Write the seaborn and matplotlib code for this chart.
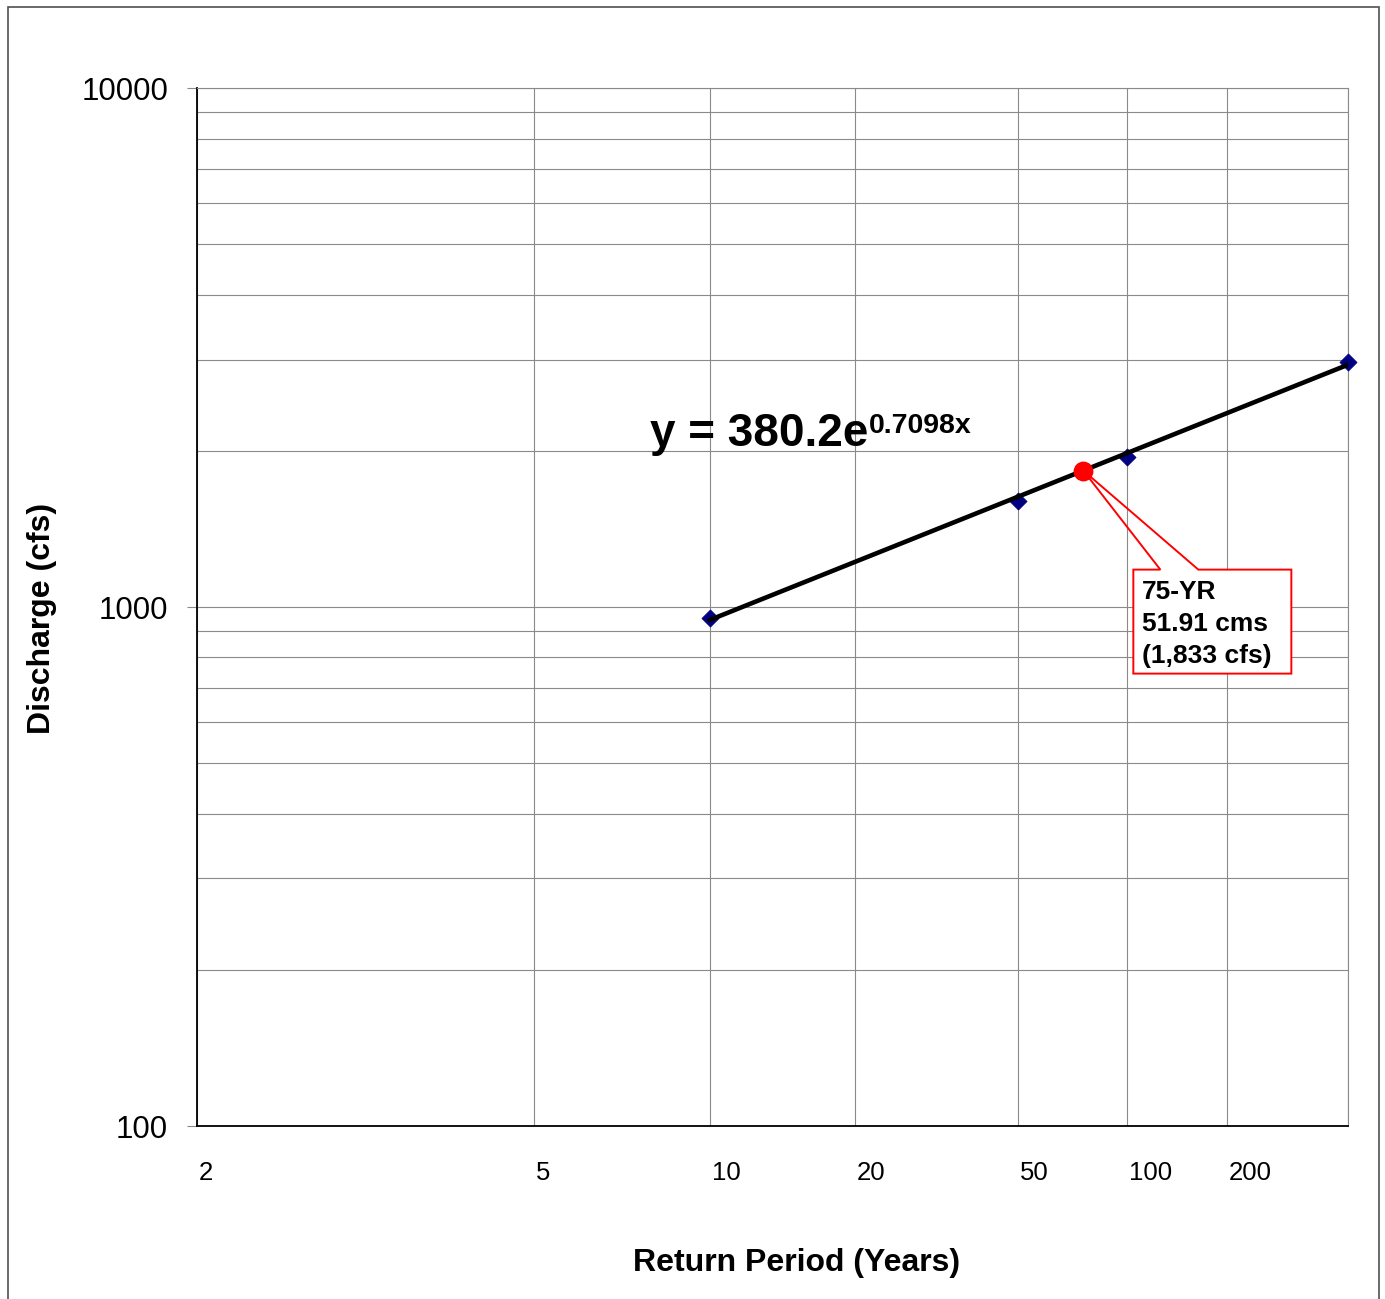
import numpy as np
import pandas as pd
import matplotlib
matplotlib.use("Agg")
import matplotlib.pyplot as plt
import matplotlib.transforms as mtransforms
from matplotlib.patches import Rectangle, Polygon
from matplotlib.ticker import NullFormatter, NullLocator
import seaborn as sns
from statistics import NormalDist

# Peak discharge estimates (cfs) at selected return periods (years)
return_period = [10, 50, 100, 500]
discharge_cfs = [953, 1600, 1950, 2965]

# Fitted trend: Q = A * exp(B * z), z = standard normal variate of (1 - 1/T)
trend_coef_a = 380.2
trend_coef_b = 0.7098
trend_period = [10, 500]

# Design event
design_period = [75]
design_cfs = [1833]
design_cms = 51.91

x_ticks = [2, 5, 10, 20, 50, 100, 200, 500]
x_tick_labels = ["2", "5", "10", "20", "50", "100", "200", ""]
y_major = [100, 1000, 10000]
y_major_labels = ["100", "1000", "10000"]
y_minor = [200, 300, 400, 500, 600, 700, 800, 900,
           2000, 3000, 4000, 5000, 6000, 7000, 8000, 9000]

# ---- normal-probability scale for return period ----
_nd = NormalDist()
_inv_cdf = np.vectorize(_nd.inv_cdf, otypes=[float])
_cdf = np.vectorize(_nd.cdf, otypes=[float])


def period_to_z(T):
    T = np.clip(np.asarray(T, dtype=float), 1.0001, 1e9)
    return _inv_cdf(1.0 - 1.0 / T)


def z_to_period(z):
    z = np.asarray(z, dtype=float)
    return 1.0 / np.clip(1.0 - _cdf(z), 1e-12, None)


obs = pd.DataFrame({"T": return_period, "Q": discharge_cfs})
trend = pd.DataFrame({"T": trend_period})
trend["Q"] = trend_coef_a * np.exp(trend_coef_b * period_to_z(trend["T"]))
design = pd.DataFrame({"T": design_period, "Q": design_cfs})

sns.set_theme(style="white")
plt.rcParams["font.family"] = ["Liberation Sans", "DejaVu Sans"]
plt.rcParams["text.color"] = "black"
plt.rcParams["axes.labelcolor"] = "black"
plt.rcParams["xtick.color"] = "black"
plt.rcParams["ytick.color"] = "black"

W, H = 1385, 1299
fig = plt.figure(figsize=(W / 100, H / 100), dpi=100)
ax = fig.add_axes([197 / W, 1 - 1126 / H, (1348 - 197) / W, (1126 - 88.3) / H])

sns.scatterplot(data=obs, x="T", y="Q", marker="D", s=75, color="#000080",
                edgecolor="#000080", linewidth=0.6, zorder=3, clip_on=False, ax=ax)
sns.lineplot(data=trend, x="T", y="Q", color="black", linewidth=3.3,
             zorder=4, ax=ax)
sns.scatterplot(data=design, x="T", y="Q", color="#ff0000", edgecolor="#ff0000",
                s=175, zorder=6, clip_on=False, ax=ax)

ax.set_xscale("function", functions=(period_to_z, z_to_period))
ax.set_yscale("log")
ax.set_xlim(2, 500)
ax.set_ylim(100, 10000)

grid_color = "#8a8a8a"
ax.set_xticks(x_ticks, labels=x_tick_labels)
ax.xaxis.set_minor_locator(NullLocator())
ax.set_yticks(y_major, labels=y_major_labels)
ax.set_yticks(y_minor, minor=True)
ax.yaxis.set_minor_formatter(NullFormatter())

ax.set_axisbelow(True)
ax.grid(True, which="major", axis="x", color=grid_color, linewidth=0.8)
ax.grid(True, which="both", axis="y", color=grid_color, linewidth=0.8)

ax.tick_params(axis="x", which="both", length=0, pad=25.5, labelsize=18.5,
               labelcolor="black")
ax.tick_params(axis="y", which="major", length=7.2, width=0.8, color=grid_color,
               pad=13.5, labelsize=22.5, labelcolor="black", left=True)
ax.tick_params(axis="y", which="minor", length=0)

offset = mtransforms.ScaledTranslation(2 / 100, 0, fig.dpi_scale_trans)
for lbl in ax.get_xticklabels():
    lbl.set_horizontalalignment("left")
    lbl.set_transform(lbl.get_transform() + offset)

for side in ("left", "bottom"):
    ax.spines[side].set_color("black")
    ax.spines[side].set_linewidth(1.3)
for side in ("top", "right"):
    ax.spines[side].set_color(grid_color)
    ax.spines[side].set_linewidth(0.8)

ax.set_xlabel("Return Period (Years)", fontsize=23, fontweight="bold")
ax.set_ylabel("Discharge (cfs)", fontsize=23, fontweight="bold")
ax.xaxis.set_label_coords((797 - 197) / (1348 - 197), (1126 - 1263) / (1126 - 88.3))
ax.xaxis.label.set_verticalalignment("center")
ax.yaxis.set_label_coords((42 - 197) / (1348 - 197), (1126 - 618) / (1126 - 88.3))
ax.yaxis.label.set_verticalalignment("center")

# Trend equation
fig.text(650 / W, 1 - 446 / H, "y = 380.2e", fontsize=33, fontweight="bold",
         va="baseline", ha="left")
fig.text(869 / W, 1 - 433 / H, f"{trend_coef_b}x", fontsize=20.5, fontweight="bold",
         va="baseline", ha="left")

# Callout for the design event
dot_x, dot_y = ax.transData.transform((design_period[0], design_cfs[0]))
box_l, box_r, box_t, box_b = 50, 208, 99, 203
wedge_a, wedge_b = 77, 115
ident = mtransforms.IdentityTransform()
ax.add_patch(Rectangle((dot_x + box_l, dot_y - box_b), box_r - box_l, box_b - box_t,
                       transform=ident, facecolor="white", edgecolor="none",
                       zorder=5, clip_on=False))
outline = [
    (dot_x, dot_y),
    (dot_x + wedge_b, dot_y - box_t),
    (dot_x + box_r, dot_y - box_t),
    (dot_x + box_r, dot_y - box_b),
    (dot_x + box_l, dot_y - box_b),
    (dot_x + box_l, dot_y - box_t),
    (dot_x + wedge_a, dot_y - box_t),
]
ax.add_patch(Polygon(outline, closed=True, fill=False, edgecolor="#ff0000",
                     linewidth=1.4, transform=ident, zorder=5.5, clip_on=False))
ax.annotate(f"{design_period[0]}-YR\n{design_cms:.2f} cms\n({design_cfs[0]:,} cfs)",
            xy=(design_period[0], design_cfs[0]), xytext=(59, -109),
            textcoords="offset pixels", ha="left", va="top", fontsize=19,
            fontweight="bold", color="black", linespacing=1.42, zorder=7)

# Chart-area frame
fig.patches.append(Rectangle((8 / W, -0.02), (1379 - 8) / W, 1 - 7 / H + 0.02,
                             transform=fig.transFigure, fill=False,
                             edgecolor="#505050", linewidth=1.2))

fig.savefig("out.png", dpi=100)
